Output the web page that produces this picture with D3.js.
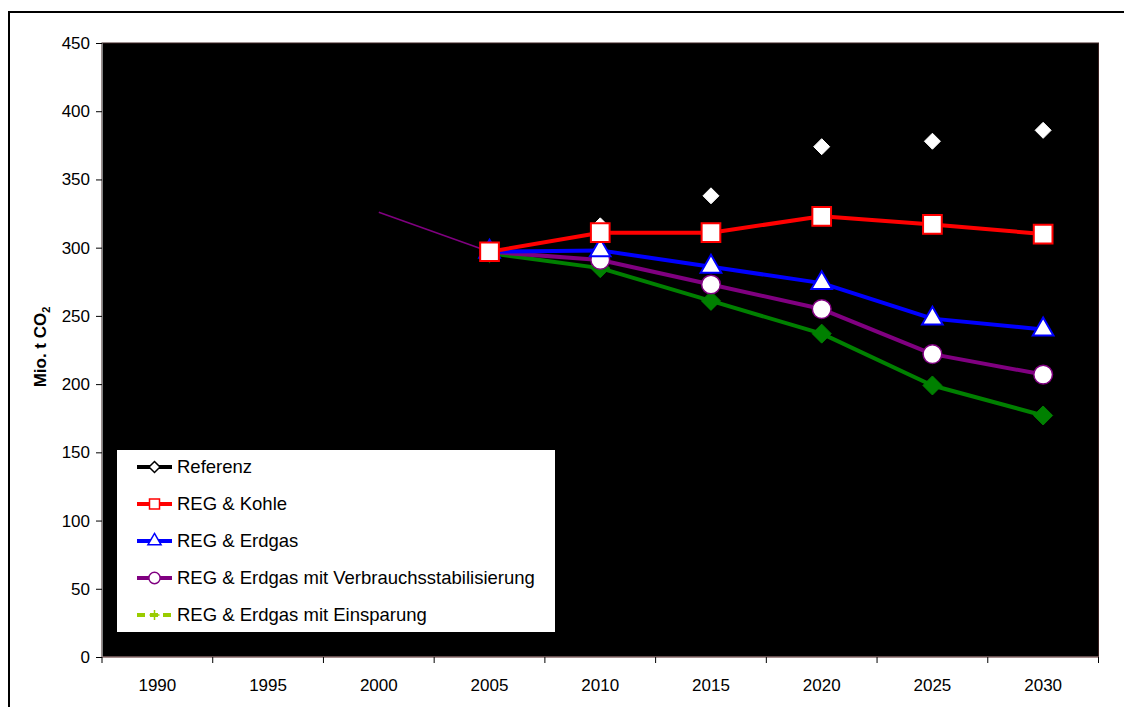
<!DOCTYPE html>
<html><head><meta charset="utf-8">
<script src="https://cdn.jsdelivr.net/npm/d3@7"></script>
<style>html,body{margin:0;padding:0;background:#fff;overflow:hidden}svg{display:block;font-family:"Liberation Sans",Arial,sans-serif}</style>
</head><body><svg id="c" width="1124" height="707"></svg>
<script>
const years = ["1990","1995","2000","2005","2010","2015","2020","2025","2030"];
const yTicks = [0,50,100,150,200,250,300,350,400,450];
const referenz = [null,null,null,297,316,338,374,378,386];
const kohle = [null,null,null,297,311,311,323,317,310];
const erdgas = [null,null,null,297,298,286,274,248,240];
const verbrauch = [null,null,null,297,291,273,255,222,207];
const einsparung = [null,null,null,296,285,261,237,199,177];
const historic = [null,null,326,297,null,null,null,null,null];

const seriesNames = ["Referenz","REG & Kohle","REG & Erdgas","REG & Erdgas mit Verbrauchsstabilisierung","REG & Erdgas mit Einsparung"];

const svg = d3.select("#c");
const m = {l:102, t:43, r:1098.5, b:657};
const x = d3.scaleBand().domain(years).range([m.l, m.r]);
const y = d3.scaleLinear().domain([0,450]).range([m.b, m.t]);
const cx = d => x(d) + x.bandwidth()/2;

// outer border
svg.append("rect").attr("x",9).attr("y",12).attr("width",1130).attr("height",710)
  .attr("fill","#fff").attr("stroke","#000").attr("stroke-width",2);

// plot area
svg.append("rect").attr("x",m.l).attr("y",m.t).attr("width",m.r-m.l).attr("height",m.b-m.t)
  .attr("fill","#000").attr("stroke","#3a2020").attr("stroke-width",1);

// axes
const yAxis = svg.append("g").attr("transform",`translate(${m.l},0)`)
  .call(d3.axisLeft(y).tickValues(yTicks).tickSize(6).tickSizeOuter(0).tickPadding(6));
yAxis.select(".domain").attr("stroke","#808080");
yAxis.selectAll(".tick line").attr("stroke","#000");
yAxis.selectAll("text").attr("font-size",17).attr("fill","#000").attr("font-family","Liberation Sans, Arial, sans-serif");

const xb = svg.append("g").attr("transform",`translate(0,${m.b})`);
xb.append("line").attr("x1",m.l).attr("x2",m.r).attr("y1",0).attr("y2",0).attr("stroke","#b09090");
const bounds = years.map(d=>x(d)).concat([m.r]);
xb.selectAll("line.tk").data(bounds).join("line").attr("class","tk")
  .attr("x1",d=>d).attr("x2",d=>d).attr("y1",0).attr("y2",6).attr("stroke","#000");
xb.selectAll("text").data(years).join("text")
  .attr("x",d=>cx(d)).attr("y",34).attr("text-anchor","middle").attr("font-size",17).text(d=>d);

// y title
svg.append("text").attr("transform","translate(46,347) rotate(-90)")
  .attr("text-anchor","middle").attr("font-size",17).attr("font-weight","bold")
  .html('Mio. t CO<tspan font-size="11" dy="4">2</tspan>');

const line = d3.line().defined(d=>d.v!=null).x(d=>cx(d.k)).y(d=>y(d.v));
const toPts = arr => years.map((k,i)=>({k, v:arr[i]}));

function drawLine(arr,color,w){
  svg.append("path").datum(toPts(arr)).attr("d",line).attr("fill","none")
    .attr("stroke",color).attr("stroke-width",w).attr("stroke-linejoin","round");
}
const diamondPath = r => `M0,${-r}L${r},0L0,${r}L${-r},0Z`;
const sym = (type,size) => d3.symbol().type(type).size(size)();
function drawMarks(arr,d,fill,stroke,sw){
  svg.append("g").selectAll("path").data(toPts(arr).filter(p=>p.v!=null)).join("path")
    .attr("transform",p=>`translate(${cx(p.k)},${y(p.v)})`)
    .attr("d",d).attr("fill",fill).attr("stroke",stroke).attr("stroke-width",sw);
}

drawLine(historic,"#800080",1.5);
drawMarks(referenz,diamondPath(8),"#fff","#fff",1);
drawLine(einsparung,"#008000",4);
drawMarks(einsparung,diamondPath(9.5),"#008000","#008000",1);
drawLine(verbrauch,"#800080",4);
drawLine(erdgas,"#0000ff",4);
drawLine(kohle,"#ff0000",4);
drawMarks(verbrauch,sym(d3.symbolCircle,275),"#fff","#800080",1.5);
drawMarks(erdgas,sym(d3.symbolTriangle,185),"#fff","#0000ff",2);
drawMarks(kohle,sym(d3.symbolSquare,350),"#fff","#ff0000",2);

// legend
const lg = svg.append("g");
lg.append("rect").attr("x",116.5).attr("y",449.5).attr("width",439).attr("height",183)
  .attr("fill","#fff").attr("stroke","#000").attr("stroke-width",1);
const legendStyles = [
  {c:"#000", d:diamondPath(5.5), f:"#fff", dash:null},
  {c:"#ff0000", d:sym(d3.symbolSquare,100), f:"#fff", dash:null},
  {c:"#0000ff", d:sym(d3.symbolTriangle,75), f:"#fff", dash:null},
  {c:"#800080", d:sym(d3.symbolCircle,100), f:"#fff", dash:null},
  {c:"#99cc00", d:"M-5,0H5M0,-5V5", f:"none", dash:"8,5"}
];
seriesNames.forEach((n,i)=>{
  const yy = 467 + i*37;
  const st = legendStyles[i];
  lg.append("line").attr("x1",137).attr("x2",172).attr("y1",yy).attr("y2",yy)
    .attr("stroke",st.c).attr("stroke-width",4).attr("stroke-dasharray",st.dash);
  lg.append("path").attr("transform",`translate(154.5,${yy})`).attr("d",st.d)
    .attr("fill",st.f).attr("stroke",st.c).attr("stroke-width",1.5);
  lg.append("text").attr("x",177).attr("y",yy+6).attr("font-size",18.5).text(n);
});
</script></body></html>
